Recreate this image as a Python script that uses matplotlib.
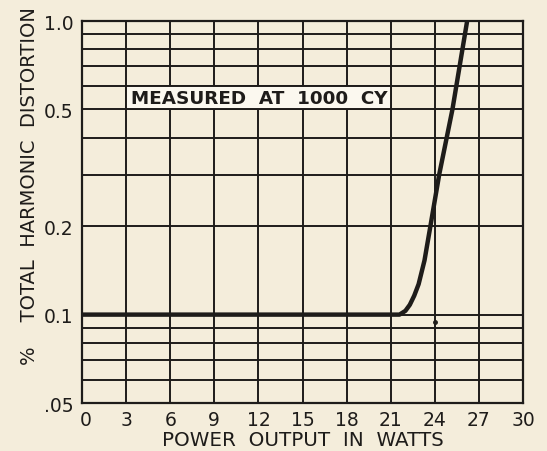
import matplotlib
matplotlib.use("Agg")
import matplotlib.pyplot as plt
import matplotlib.transforms as mtransforms
from matplotlib.patches import Rectangle
from matplotlib.ticker import FixedLocator, NullFormatter, NullLocator

# Data
power_w = [0, 5, 10, 15, 20, 21.0, 21.6, 22.0, 22.3, 22.6, 22.9, 23.3, 23.7, 24.3, 25.2, 26.2]
thd_pct = [0.1, 0.1, 0.1, 0.1, 0.1, 0.1, 0.1, 0.103, 0.108, 0.116, 0.127, 0.153, 0.2, 0.3, 0.5, 1.0]
dot_x = [24.0]
dot_y = [0.0946]

x_ticks = [0, 3, 6, 9, 12, 15, 18, 21, 24, 27, 30]
x_tick_labels = ["0", "3", "6", "9", "12", "15", "18", "21", "24", "27", "30"]
y_ticks = [0.05, 0.1, 0.2, 0.5, 1.0]
y_tick_labels = [".05", "0.1", "0.2", "0.5", "1.0"]
y_grid = [0.06, 0.07, 0.08, 0.09, 0.1, 0.2, 0.3, 0.4, 0.5, 0.6, 0.7, 0.8, 0.9]
note_text = "MEASURED  AT  1000  CY"
x_label = "POWER  OUTPUT  IN  WATTS"
y_label = "%    TOTAL  HARMONIC  DISTORTION"

paper = "#f4eddb"
ink = "#1e1c1a"
font = "DejaVu Sans"

W, H = 547, 452
fig = plt.figure(figsize=(W / 100, H / 100), dpi=100, facecolor=paper)
ax = fig.add_axes([82 / W, 1 - 404 / H, (523 - 82) / W, (404 - 22) / H])
ax.set_facecolor(paper)
ax.set_yscale("log")
ax.set_xlim(0, 30)
ax.set_ylim(0.05, 1.0)

# grid
for xv in x_ticks[1:-1]:
    ax.axvline(xv, color=ink, lw=1.4, zorder=1)
for yv in y_grid:
    ax.axhline(yv, color=ink, lw=1.4, zorder=1)

# note box
ax.add_patch(Rectangle((3, 0.5), 18, 0.1, facecolor="#fbf8ef", edgecolor=ink, lw=1.4, zorder=2))
ax.text(3.35, 0.547, note_text, ha="left", va="center", fontsize=13.2, fontfamily=font,
        fontweight="bold", color=ink, zorder=3)

ax.plot(power_w, thd_pct, color=ink, lw=3.2, solid_capstyle="butt", zorder=4)
ax.plot(dot_x, dot_y, "o", color=ink, ms=2.5, zorder=4)

ax.xaxis.set_major_locator(FixedLocator(x_ticks))
ax.set_xticklabels(x_tick_labels)
ax.yaxis.set_major_locator(FixedLocator(y_ticks))
ax.yaxis.set_minor_locator(NullLocator())
ax.yaxis.set_minor_formatter(NullFormatter())
ax.set_yticklabels(y_tick_labels)
ax.tick_params(axis="x", length=0, labelsize=13.5, colors=ink, pad=5)
ax.tick_params(axis="y", length=0, labelsize=13.5, colors=ink, pad=6)
for lab in ax.get_xticklabels() + ax.get_yticklabels():
    lab.set_fontfamily(font)
# the "0" label sits a little right of its grid line in the original
first = ax.get_xticklabels()[0]
first.set_transform(first.get_transform() + mtransforms.ScaledTranslation(4 / 100, 0, fig.dpi_scale_trans))
for sp in ax.spines.values():
    sp.set_linewidth(1.6)
    sp.set_color(ink)

ax.set_xlabel(x_label, fontsize=14.3, fontfamily=font, color=ink, labelpad=1)
fig.text(30 / W, 1 - 186 / H, y_label, rotation=90, ha="center", va="center",
         fontsize=14, fontfamily=font, color=ink)

fig.savefig("out.png", dpi=100, facecolor=paper)
